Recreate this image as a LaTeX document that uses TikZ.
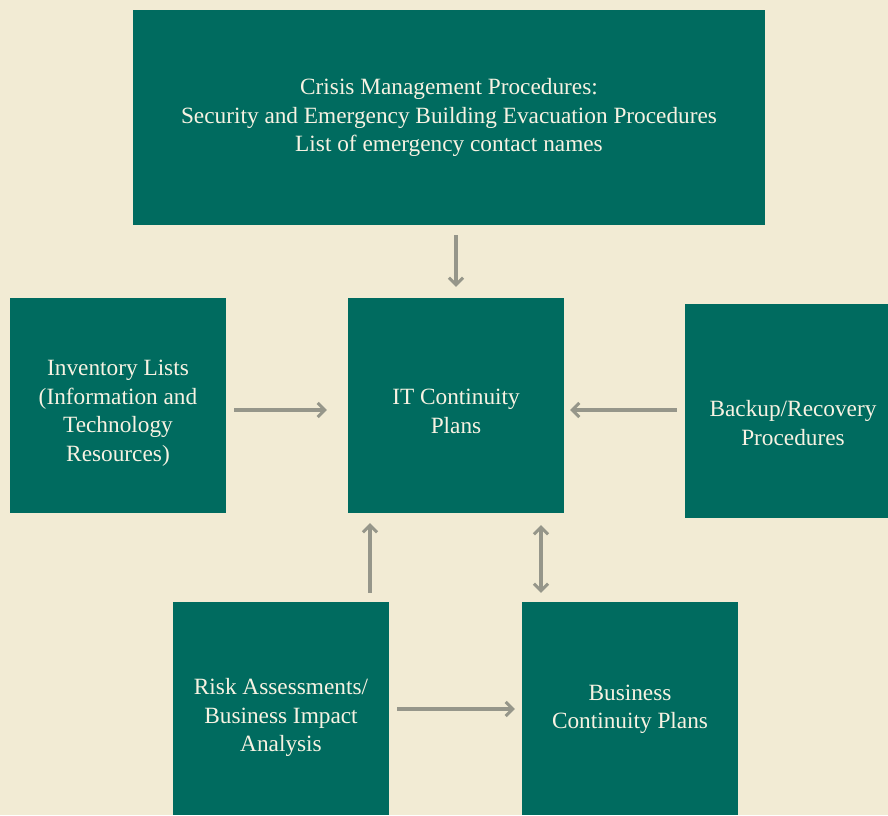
\documentclass[tikz,border=0pt]{standalone}
\usepackage{fontspec}
\setmainfont{Liberation Serif}
\usetikzlibrary{arrows.meta}
\definecolor{bg}{HTML}{F2EBD4}
\definecolor{teal}{HTML}{006B5F}
\definecolor{cream}{HTML}{F7F2E2}
\definecolor{arrgray}{HTML}{96968A}
\tikzset{
  box/.style={fill=teal, draw=none, inner sep=0pt},
  txt/.style={text=cream, align=center, inner sep=0pt,
    font=\fontsize{23.3}{28.5}\selectfont},
  arr/.style={draw=arrgray, line width=3.5pt,
    -{Straight Barb[length=7pt,width=14pt,line width=3pt]}},
  darr/.style={draw=arrgray, line width=3.5pt,
    {Straight Barb[length=7pt,width=14pt,line width=3pt]}-{Straight Barb[length=7pt,width=14pt,line width=3pt]}}
}
\begin{document}
\begin{tikzpicture}[x=1pt,y=-1pt]
\useasboundingbox (0,0) rectangle (888,815);
\clip (0,0) rectangle (888,815);
\fill[bg] (0,0) rectangle (888,815);
\node[box, minimum width=632pt, minimum height=215pt,
  label={[txt]center:{Crisis Management Procedures:\\Security and Emergency Building Evacuation Procedures\\List of emergency contact names}}] (top) at (449,117.5) {};
\node[box, minimum width=216pt, minimum height=215pt,
  label={[txt, yshift=-6pt]center:{IT Continuity\\Plans}}] (it) at (456,405.5) {};
\node[box, minimum width=216pt, minimum height=215pt,
  label={[txt, yshift=-8pt]center:{Inventory Lists\\(Information and\\Technology\\Resources)}}] (inv) at (118,405.5) {};
\node[box, minimum width=216pt, minimum height=214pt,
  label={[txt, yshift=-12pt]center:{Backup/Recovery\\Procedures}}] (bak) at (793,411) {};
\node[box, minimum width=216pt, minimum height=213pt,
  label={[txt, yshift=-9pt]center:{Risk Assessments/\\Business Impact\\Analysis}}] (risk) at (281,708.5) {};
\node[box, minimum width=216pt, minimum height=213pt,
  label={[txt, yshift=-1pt]center:{Business\\Continuity Plans}}] (bcp) at (630,708.5) {};
% connectors
\draw[arr, shorten <=10pt, shorten >=11pt] (it.north |- top.south) -- (it.north);
\draw[arr, shorten <=8pt, shorten >=21pt] ([yshift=-4.5pt]inv.east) -- ([yshift=-4.5pt]it.west);
\draw[arr, shorten <=8pt, shorten >=6pt] (bak.west |- 0,410) -- (it.east |- 0,410);
\draw[arr, shorten <=9pt, shorten >=10pt] (risk.north -| 370,0) -- (it.south -| 370,0);
\draw[darr, shorten <=12pt, shorten >=9pt] (it.south -| 541,0) -- (bcp.north -| 541,0);
\draw[arr, shorten <=8pt, shorten >=7pt] (risk.east |- 0,709) -- (bcp.west |- 0,709);
\end{tikzpicture}
\end{document}
